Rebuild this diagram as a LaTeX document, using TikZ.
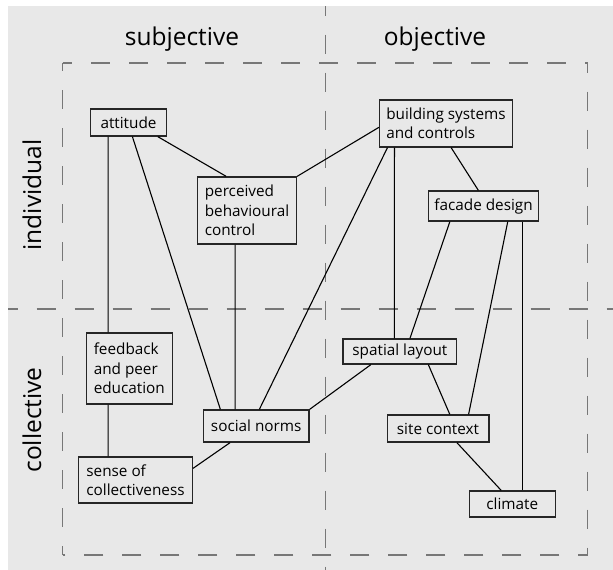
\documentclass[tikz,border=0pt]{standalone}
\usepackage{fontspec}
\setmainfont{Open Sans}
\usetikzlibrary{positioning, calc}

\definecolor{bggray}{HTML}{E8E8E8}
\definecolor{dashgray}{HTML}{777777}
\definecolor{boxline}{HTML}{262626}

\newcommand{\boxfont}{\fontsize{15.3}{19.5}\selectfont}
\newcommand{\axisfont}{\fontsize{24.5}{28}\selectfont}

\begin{document}
\begin{tikzpicture}[x=1pt, y=-1pt,
        box/.style={draw=boxline, line width=1.3pt, inner sep=0pt, align=left, font=\boxfont},
        link/.style={line width=1.1pt},
        dashline/.style={draw=dashgray, line width=1.1pt, dash pattern=on 19pt off 19pt, dash phase=9.5pt},
        axislabel/.style={font=\axisfont, anchor=base}]
        \useasboundingbox (0,0) rectangle (613,570);

        % draw the background
        \fill[bggray] (8,6) rectangle (613,570);

        % the quadrants
        \draw[dashline] (62.7,63) -- (587.8,63);
        \draw[dashline] (587.8,63) -- (587.8,555);
        \draw[dashline] (587.8,555) -- (62.7,555);
        \draw[dashline] (62.7,555) -- (62.7,63);
        \draw[dashline] (325.5,6) -- (325.5,570);
        \draw[dashline] (8,309) -- (613,309);

        % axis labels
        \node[axislabel] (subj) at (182,45) {subjective};
        \node[axislabel] (obj) at (435,45) {objective};
        \node[axislabel, rotate=90] (ind) at (41,195) {individual};
        \node[axislabel, rotate=90] (coll) at (41,420) {collective};

        % the boxes
        \node[box, minimum width=75.5pt, minimum height=27pt] (att) at (128.5,122.5) {attitude};
        \node[box, minimum width=99pt, minimum height=67pt] (pbc) at (247,210.5) {perceived\\behavioural\\control};
        \node[box, minimum width=133pt, minimum height=47pt] (bsc) at (446,123.5) {building systems\\and controls};
        \node[box, minimum width=110pt, minimum height=30pt] (fd) at (483.6,206) {facade design};
        \node[box, minimum width=85.7pt, minimum height=71pt] (fb) at (129.3,368.5) {feedback\\and peer\\education};
        \node[box, minimum width=105.6pt, minimum height=32pt] (sn) at (256.2,426) {social norms};
        \node[box, minimum width=113.8pt, minimum height=46pt] (sc) at (135.5,480) {sense of\\collectiveness};
        \node[box, minimum width=113.8pt, minimum height=25pt] (sl) at (399.9,351.5) {spatial layout};
        \node[box, minimum width=101.7pt, minimum height=27pt] (st) at (438,428.5) {site context};
        \node[box, minimum width=86pt, minimum height=26pt] (cl) at (512.3,504) {climate};

        % links of the subjective side
        \draw[link] ($(att.south west)+(18,0)$) -- ($(fb.north west)+(22.3,0)$);
        \draw[link] ($(att.south west)+(42.3,0)$) -- ($(sn.north west)+(17.6,0)$);
        \draw[link] ($(att.south west)+(67.7,0)$) -- ($(pbc.north west)+(29.3,0)$);
        \draw[link] (pbc.north east) -- ($(bsc.north west)+(0,28)$);
        \draw[link] ($(pbc.south west)+(38.3,0)$) -- ($(sn.north west)+(32.4,0)$);
        \draw[link] ($(fb.south west)+(22.3,0)$) -- ($(sc.north west)+(30.1,0)$);
        \draw[link] ($(sn.south west)+(27.3,0)$) -- ($(sc.north east)+(0,12)$);

        % links of the objective side
        \draw[link] ($(bsc.south west)+(8.6,0)$) -- ($(sn.north west)+(56.6,0)$);
        \draw[link] ($(bsc.south west)+(15.6,0)$) -- ($(sl.north west)+(52,0)$);
        \draw[link] ($(bsc.south west)+(72.3,0)$) -- ($(fd.north west)+(50.4,0)$);
        \draw[link] ($(fd.south west)+(21.9,0)$) -- ($(sl.north west)+(67.6,0)$);
        \draw[link] ($(fd.south west)+(79.8,0)$) -- ($(st.north west)+(82.1,0)$);
        \draw[link] ($(fd.south west)+(94.3,0)$) -- ($(cl.north west)+(53.6,0)$);
        \draw[link] ($(sl.south west)+(28.5,0)$) -- (sn.north east);
        \draw[link] ($(sl.south west)+(86,0)$) -- ($(st.north west)+(63.3,0)$);
        \draw[link] ($(st.south west)+(70.4,0)$) -- ($(cl.north west)+(32.5,0)$);
    \end{tikzpicture}
\end{document}
